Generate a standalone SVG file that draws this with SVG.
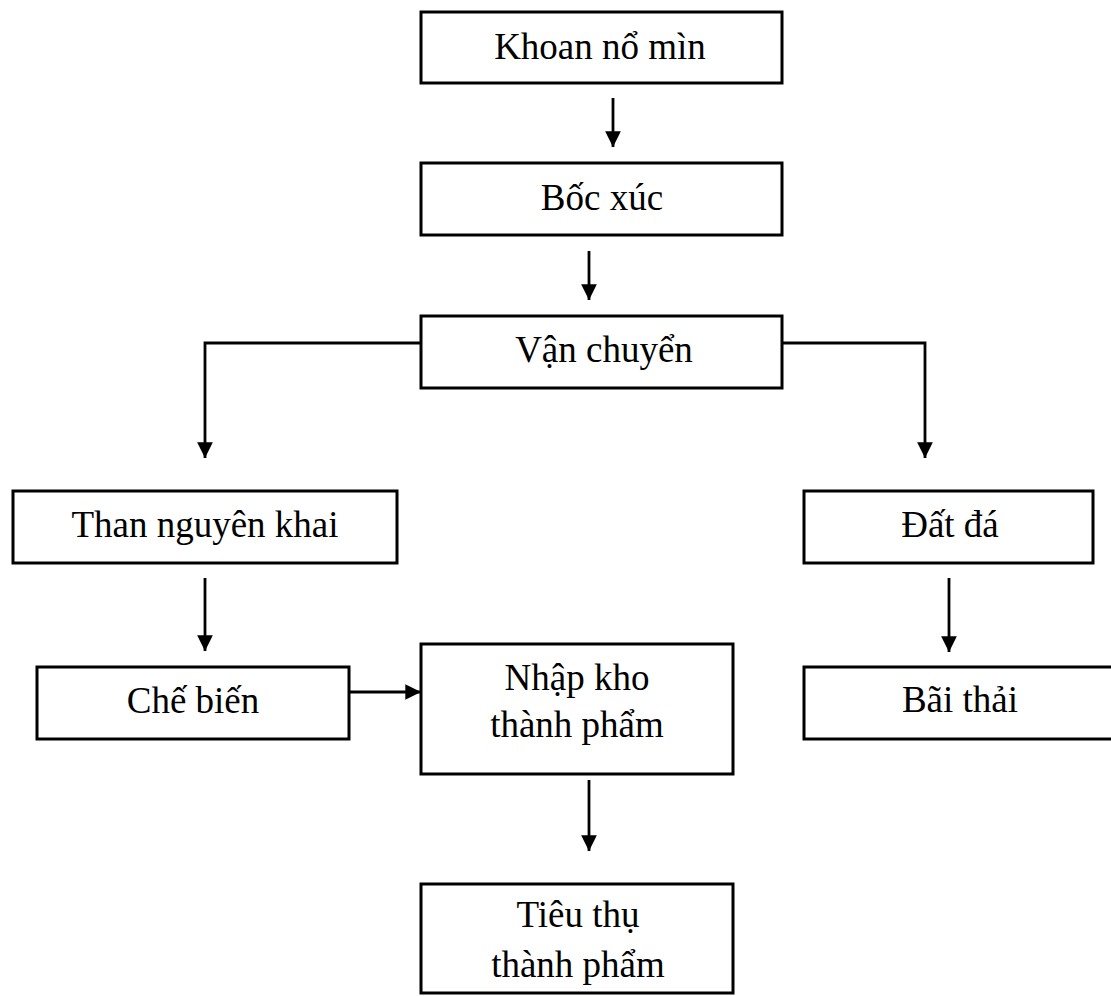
<svg xmlns="http://www.w3.org/2000/svg" width="1111" height="996" viewBox="0 0 1111 996">
  <style>
    .box { fill: #ffffff; stroke: #000000; stroke-width: 3; }
    .lbl { font-family: "Liberation Serif", "Times New Roman", serif; font-size: 37px; fill: #000000; text-anchor: middle; }
    .wire { fill: none; stroke: #000000; stroke-width: 2.8; }
  </style>
  <defs>
    <marker id="arrow" viewBox="0 0 10 10" refX="10" refY="5" markerWidth="5.6" markerHeight="5.6" markerUnits="strokeWidth" orient="auto">
      <path d="M0,0 L10,5 L0,10 Z" fill="#000000"/>
    </marker>
  </defs>
  <rect width="1111" height="996" fill="#ffffff"/>

  <g id="connectors">
    <line class="wire" x1="613" y1="98" x2="613" y2="147" marker-end="url(#arrow)"/>
    <line class="wire" x1="589" y1="251" x2="589" y2="300" marker-end="url(#arrow)"/>
    <polyline class="wire" points="421,343 205,343 205,458" marker-end="url(#arrow)"/>
    <polyline class="wire" points="782,343 925,343 925,458" marker-end="url(#arrow)"/>
    <line class="wire" x1="205" y1="578" x2="205" y2="651" marker-end="url(#arrow)"/>
    <line class="wire" x1="949" y1="578" x2="949" y2="652" marker-end="url(#arrow)"/>
    <line class="wire" x1="349" y1="692" x2="421" y2="692" marker-end="url(#arrow)"/>
    <line class="wire" x1="589" y1="780" x2="589" y2="851" marker-end="url(#arrow)"/>
  </g>

  <g id="khoan-no-min">
    <rect class="box" x="421" y="12" width="361" height="71"/>
    <text class="lbl" x="600" y="59">Khoan nổ mìn</text>
  </g>
  <g id="boc-xuc">
    <rect class="box" x="421" y="163" width="361" height="72"/>
    <text class="lbl" x="602" y="210">Bốc xúc</text>
  </g>
  <g id="van-chuyen">
    <rect class="box" x="421" y="316" width="361" height="72"/>
    <text class="lbl" x="604" y="362">Vận chuyển</text>
  </g>
  <g id="than-nguyen-khai">
    <rect class="box" x="13" y="491" width="384" height="72"/>
    <text class="lbl" x="205" y="537">Than nguyên khai</text>
  </g>
  <g id="dat-da">
    <rect class="box" x="804" y="491" width="289" height="72"/>
    <text class="lbl" x="950" y="537">Đất đá</text>
  </g>
  <g id="che-bien">
    <rect class="box" x="37" y="667" width="312" height="72"/>
    <text class="lbl" x="193" y="713">Chế biến</text>
  </g>
  <g id="nhap-kho">
    <rect class="box" x="421" y="644" width="312" height="130"/>
    <text class="lbl" x="577" y="690">Nhập kho</text>
    <text class="lbl" x="577" y="737">thành phẩm</text>
  </g>
  <g id="bai-thai">
    <rect class="box" x="804" y="667" width="320" height="72"/>
    <text class="lbl" x="960" y="712">Bãi thải</text>
  </g>
  <g id="tieu-thu">
    <rect class="box" x="421" y="884" width="312" height="109"/>
    <text class="lbl" x="578" y="927">Tiêu thụ</text>
    <text class="lbl" x="578" y="977">thành phẩm</text>
  </g>
</svg>
